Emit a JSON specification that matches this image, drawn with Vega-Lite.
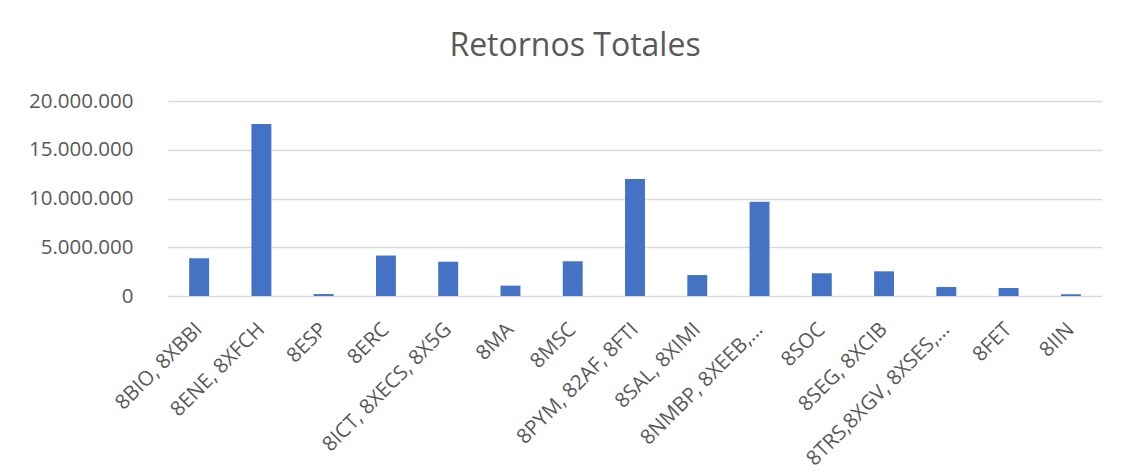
{
  "$schema": "https://vega.github.io/schema/vega-lite/v6.json",
  "autosize": {"type": "none"},
  "padding": {"left": 168, "top": 101, "right": 32, "bottom": 180},
  "width": 934,
  "height": 195,
  "background": "white",
  "config": {
    "locale": {"number": {"decimal": ",", "thousands": ".", "grouping": [3], "currency": ["", " €"]}},
    "view": {"stroke": null}
  },
  "title": {
    "text": "Retornos Totales",
    "font": "Open Sans",
    "fontSize": 32,
    "fontWeight": "normal",
    "color": "#595959",
    "anchor": "middle",
    "dx": -60,
    "baseline": "alphabetic",
    "offset": 3
  },
  "data": {
    "values": [
      {"categoria": "8BIO, 8XBBI", "retornos": 3870000},
      {"categoria": "8ENE, 8XFCH", "retornos": 17640000},
      {"categoria": "8ESP", "retornos": 200000},
      {"categoria": "8ERC", "retornos": 4150000},
      {"categoria": "8ICT, 8XECS, 8X5G", "retornos": 3520000},
      {"categoria": "8MA", "retornos": 1060000},
      {"categoria": "8MSC", "retornos": 3560000},
      {"categoria": "8PYM, 82AF, 8FTI", "retornos": 12000000},
      {"categoria": "8SAL, 8XIMI", "retornos": 2150000},
      {"categoria": "8NMBP, 8XEEB,…", "retornos": 9670000},
      {"categoria": "8SOC", "retornos": 2330000},
      {"categoria": "8SEG, 8XCIB", "retornos": 2530000},
      {"categoria": "8TRS,8XGV, 8XSES,…", "retornos": 920000},
      {"categoria": "8FET", "retornos": 820000},
      {"categoria": "8IIN", "retornos": 180000}
    ]
  },
  "mark": {"type": "bar", "color": "#4472C4"},
  "encoding": {
    "x": {
      "field": "categoria",
      "type": "nominal",
      "sort": null,
      "scale": {"paddingInner": 0.68, "paddingOuter": 0.34},
      "axis": {
        "title": null,
        "domain": false,
        "ticks": false,
        "labelAngle": -45,
        "labelAlign": "right",
        "labelBaseline": "middle",
        "labelPadding": 30,
        "labelFont": "Open Sans",
        "labelFontSize": 20.5,
        "labelColor": "#595959",
        "labelLimit": 400
      }
    },
    "y": {
      "field": "retornos",
      "type": "quantitative",
      "scale": {"domain": [0, 20000000], "nice": false},
      "axis": {
        "title": null,
        "values": [0, 5000000, 10000000, 15000000, 20000000],
        "format": ",.0f",
        "domain": false,
        "ticks": false,
        "grid": true,
        "gridColor": "#D9D9D9",
        "gridWidth": 1.3,
        "labelPadding": 35,
        "labelFont": "Open Sans",
        "labelFontSize": 20.5,
        "labelColor": "#595959"
      }
    }
  }
}
